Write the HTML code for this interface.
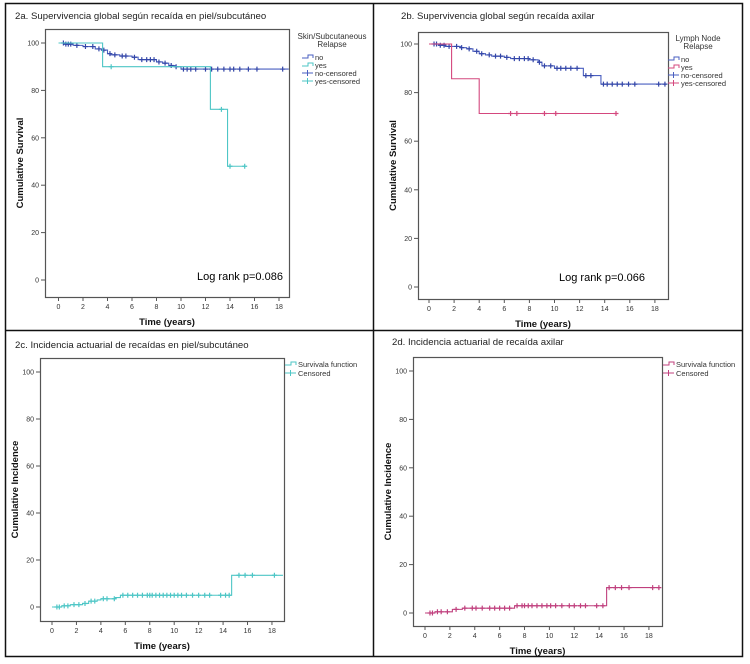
<!DOCTYPE html>
<html><head><meta charset="utf-8"><style>
body{margin:0;background:#fff;}
svg{display:block;font-family:"Liberation Sans",sans-serif;}
.tk{font-size:7px;fill:#333;}
.ttl{font-size:9.6px;fill:#222;font-family:"Liberation Sans",sans-serif;}
.ax{font-size:9.5px;font-weight:bold;fill:#111;}
.lg{font-size:7.5px;fill:#333;}
</style></head><body>
<svg id="s" width="750" height="664" viewBox="0 0 750 664">
<rect x="5.5" y="3.5" width="737" height="653" fill="none" stroke="#111" stroke-width="1.5"/>
<line x1="373.5" y1="3" x2="373.5" y2="657" stroke="#111" stroke-width="1.5"/>
<line x1="5" y1="330.5" x2="743" y2="330.5" stroke="#111" stroke-width="1.5"/>
<text class="ttl" x="15" y="19">2a. Supervivencia global según recaída en piel/subcutáneo</text>
<text class="ttl" x="401" y="19">2b. Supervivencia global según recaída axilar</text>
<text class="ttl" x="15" y="348">2c. Incidencia actuarial de recaídas en piel/subcutáneo</text>
<text class="ttl" x="392" y="345">2d. Incidencia actuarial de recaída axilar</text>
</svg>
<script>
// ---- data ----
const xTicks=[0,2,4,6,8,10,12,14,16,18];
const yTicks=[0,20,40,60,80,100];
const aNoT=[0,0.5,1.2,2,3,3.5,4,4.3,5,6,6.5,8,8.5,9,9.5,10];
const aNoV=[100,99.5,99,98.5,97.5,97,95.5,95,94.5,94,93,92,91.5,90.5,90,89];
const aNoC=[0.4,0.6,0.8,1,1.5,2.2,2.8,3.3,3.7,4.2,4.6,5.2,5.5,6.2,6.8,7.2,7.5,7.8,8.2,8.7,9.2,9.6,10.2,10.5,10.8,11.2,12,12.5,13,13.5,14,14.3,14.8,15.5,16.2,18.3];
const aYesT=[0,3.6,12.4,13.8];
const aYesV=[100,90,72,48];
const aYesC=[4.3,13.3,14,15.2];
const bNoT=[0,0.8,1.3,2.5,3,3.5,4,4.5,5,6,6.5,8,8.7,9,10,12.3,13.7];
const bNoV=[100,99.5,99,98.5,98,97,96,95.5,95,94.5,94,93.5,92.5,91,90,87,83.5];
const bNoC=[0.4,0.6,0.9,1.2,1.6,2.2,2.6,3.2,3.8,4.2,4.8,5.3,5.7,6.2,6.8,7.2,7.6,7.9,8.3,8.8,9.2,9.7,10.2,10.5,10.9,11.3,11.8,12.5,12.9,13.9,14.2,14.6,15,15.4,15.9,16.4,18.3,18.8];
const bYesT=[0,1.8,4];
const bYesV=[100,85.7,71.4];
const bYesC=[6.5,7,9.2,10.1,14.9];
const cT=[0,0.8,1.5,2.5,3,3.7,4,5.2,5.6,14.7];
const cV=[0,0.5,1,1.5,2.5,3,3.5,4,5,13.5];
const cC=[0.4,0.6,1,1.3,1.8,2.2,2.7,3.2,3.5,4.2,4.5,5.1,5.8,6.2,6.6,7,7.4,7.8,8,8.2,8.5,8.8,9.1,9.4,9.7,10,10.3,10.6,11,11.5,12,12.5,12.9,13.8,14.2,14.5,15.3,15.8,16.4,18.2];
const dT=[0,0.8,2.2,3,7.2,14.6];
const dV=[0,0.5,1.5,2,3,10.5];
const dC=[0.4,0.6,1,1.3,1.8,2.5,3.2,3.8,4.1,4.6,5.2,5.6,6,6.4,6.8,7.4,7.8,8,8.3,8.6,9,9.4,9.8,10.1,10.5,11,11.6,12,12.5,12.9,13.8,14.3,14.8,15.3,15.8,16.4,18.3,18.8];

const svg=document.getElementById('s');
const NS='http://www.w3.org/2000/svg';
function mk(tag,at,parent){const e=document.createElementNS(NS,tag);for(const k in at)e.setAttribute(k,at[k]);(parent||svg).appendChild(e);return e;}
function val(T,V,t){let v=V[0];for(let i=0;i<T.length;i++)if(T[i]<=t)v=V[i];return v;}

function chart(cfg){
  const g=mk('g',{});
  
  
  const xs=t=>cfg.x0+t*cfg.xk, ys=v=>cfg.y0-v*cfg.yk;
  const box=mk('rect',{x:cfg.L+.5,y:cfg.T+.5,width:cfg.R-cfg.L,height:cfg.B-cfg.T,fill:'none',stroke:'#555','stroke-width':1.2},g);
  
  
  xTicks.forEach(t=>{
    const X=xs(t);
    mk('line',{x1:X,y1:cfg.B,x2:X,y2:cfg.B+4,stroke:'#555'},g);
    const tx=mk('text',{x:X,y:cfg.B+12,'text-anchor':'middle',class:'tk'},g);tx.textContent=t;
    
    
  });
  yTicks.forEach(v=>{
    const Y=ys(v);
    mk('line',{x1:cfg.L-4,y1:Y,x2:cfg.L,y2:Y,stroke:'#555'},g);
    const tx=mk('text',{x:cfg.L-6,y:Y+2.5,'text-anchor':'end',class:'tk'},g);tx.textContent=v;
    
    
  });
  const xt=mk('text',{x:(cfg.L+cfg.R)/2,y:cfg.B+28,'text-anchor':'middle',class:'ax'},g);xt.textContent='Time (years)';
  
  
  const yc=(cfg.T+cfg.B)/2;
  const yt=mk('text',{x:cfg.L-22,y:yc,'text-anchor':'middle',class:'ax',transform:`rotate(-90 ${cfg.L-22} ${yc})`},g);yt.textContent=cfg.ytitle;
  
  
  cfg.series.forEach(s=>{
    let d='M'+xs(s.T[0])+','+ys(s.V[0]);
    for(let i=1;i<s.T.length;i++){d+='H'+xs(s.T[i])+'V'+ys(s.V[i]);}
    d+='H'+xs(s.end);
    const p=mk('path',{d:d,fill:'none',stroke:s.color,'stroke-width':1.1},g);
    
    
    s.C.forEach(t=>{
      const X=xs(t),Y=ys(val(s.T,s.V,t));
      const c=mk('path',{d:`M${X-2.5},${Y}H${X+2.5}M${X},${Y-2.5}V${Y+2.5}`,stroke:s.mcolor,'stroke-width':1.2},g);
      
      
    });
  });
}
const BL='#4a5fc0',BLd='#3346a8',CY='#4ec6c6',PK='#d4487e',PD='#c0407e';
chart({name:'chart-2a',L:45,R:289,T:29,B:297,x0:58.5,xk:12.25,y0:280,yk:2.37,ytitle:'Cumulative Survival',
  series:[{name:'no',T:aNoT,V:aNoV,C:aNoC,end:18.8,color:BL,mcolor:BLd},{name:'yes',T:aYesT,V:aYesV,C:aYesC,end:15.2,color:CY,mcolor:CY}]});
chart({name:'chart-2b',L:418,R:668,T:32,B:299,x0:429,xk:12.55,y0:287,yk:2.43,ytitle:'Cumulative Survival',
  series:[{name:'no',T:bNoT,V:bNoV,C:bNoC,end:18.9,color:BL,mcolor:BLd},{name:'yes',T:bYesT,V:bYesV,C:bYesC,end:14.9,color:PK,mcolor:PK}]});
chart({name:'chart-2c',L:40,R:284,T:358,B:621,x0:52,xk:12.22,y0:607,yk:2.35,ytitle:'Cumulative Incidence',
  series:[{name:'incidence',T:cT,V:cV,C:cC,end:18.9,color:CY,mcolor:CY}]});
chart({name:'chart-2d',L:413,R:662,T:357,B:626,x0:425,xk:12.44,y0:613,yk:2.42,ytitle:'Cumulative Incidence',
  series:[{name:'incidence',T:dT,V:dV,C:dC,end:18.9,color:PD,mcolor:PD}]});

function legend(x,y,title,items,step){
  const g=mk('g',{});
  
  
  let yy=y;
  title.forEach(t=>{const tx=mk('text',{x:x+30,y:yy,'text-anchor':'middle',class:'lg',style:'font-size:8px'},g);tx.textContent=t;yy+=8;});
  if(title.length)yy+=4;
  items.forEach(it=>{
    const d=it.step?`M${x},${yy-1}H${x+6}V${yy-4}H${x+11}V${yy-1}`:`M${x},${yy-2}H${x+11}M${x+5.5},${yy-5}V${yy+1}`;
    mk('path',{d:d,fill:'none',stroke:it.color,'stroke-width':1},g);
    const tx=mk('text',{x:x+13,y:yy+1,class:'lg'},g);tx.textContent=it.label;
    
    
    yy+=step;
  });
}
legend(302,39,['Skin/Subcutaneous','Relapse'],[{label:'no',color:BL,step:1},{label:'yes',color:CY,step:1},{label:'no-censored',color:BL},{label:'yes-censored',color:CY}],8);
legend(668,41,['Lymph Node','Relapse'],[{label:'no',color:BL,step:1},{label:'yes',color:PK,step:1},{label:'no-censored',color:BL},{label:'yes-censored',color:PK}],8);
legend(285,366,[],[{label:'Survivala function',color:CY,step:1},{label:'Censored',color:CY}],9);
legend(663,366,[],[{label:'Survivala function',color:PD,step:1},{label:'Censored',color:PD}],9);

const lr1=mk('text',{x:197,y:280,style:'font-size:11px'});lr1.textContent='Log rank p=0.086';


const lr2=mk('text',{x:559,y:281,style:'font-size:11px'});lr2.textContent='Log rank p=0.066';


</script>
</body></html>
